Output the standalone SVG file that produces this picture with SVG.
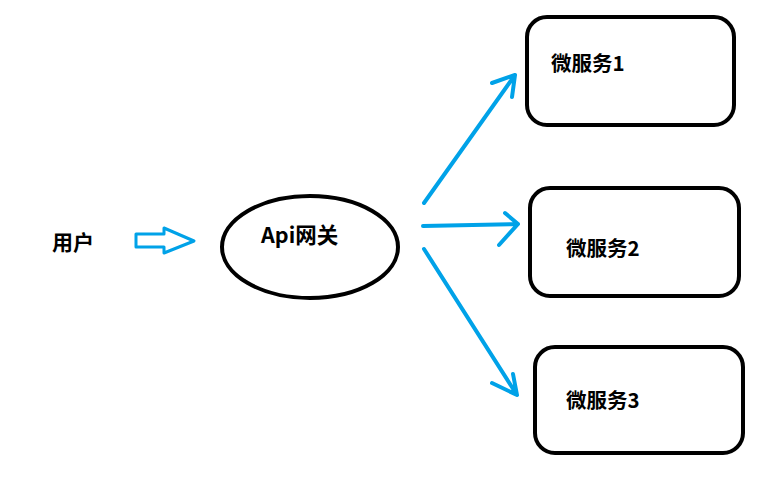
<svg xmlns="http://www.w3.org/2000/svg" width="771" height="487" viewBox="0 0 771 487">
<style>
.box{fill:#fff;stroke:#000;stroke-width:4}
.t{font-family:"Noto Sans CJK SC","Noto Sans",sans-serif;font-weight:bold;font-size:20.5px;fill:#000}
.c{fill:none;stroke:#00a2e8;stroke-width:4;stroke-linecap:round;stroke-linejoin:round}
</style>
<rect width="771" height="487" fill="#fff"/>
<g id="user"><text class="t" x="52" y="250" style="font-size:21px">用户</text></g>
<g id="gateway"><ellipse class="box" cx="310" cy="247" rx="88" ry="51"/><text class="t" x="261" y="243" style="font-size:21.5px">Api网关</text></g>
<g id="svc1"><rect class="box" x="527" y="17" width="207" height="108" rx="20"/><text class="t" x="551" y="71">微服务1</text></g>
<g id="svc2"><rect class="box" x="530" y="188" width="209" height="108" rx="20"/><text class="t" x="566" y="256">微服务2</text></g>
<g id="svc3"><rect class="box" x="535" y="347" width="208" height="106" rx="20"/><text class="t" x="566" y="408">微服务3</text></g>
<g id="connectors">
<path class="c" style="stroke-width:3" d="M136 234 H164 V228 L194 241 L164 253 V247 H136 Z"/>
<path class="c" d="M424 203 L515 75 M492 83 L515 75 L512 97"/>
<path class="c" d="M423 226 L518 224 M505 213 L518 224 L499 245"/>
<path class="c" d="M424 249 L517 395 M492 383 L517 395 L513 374"/>
</g>
</svg>
